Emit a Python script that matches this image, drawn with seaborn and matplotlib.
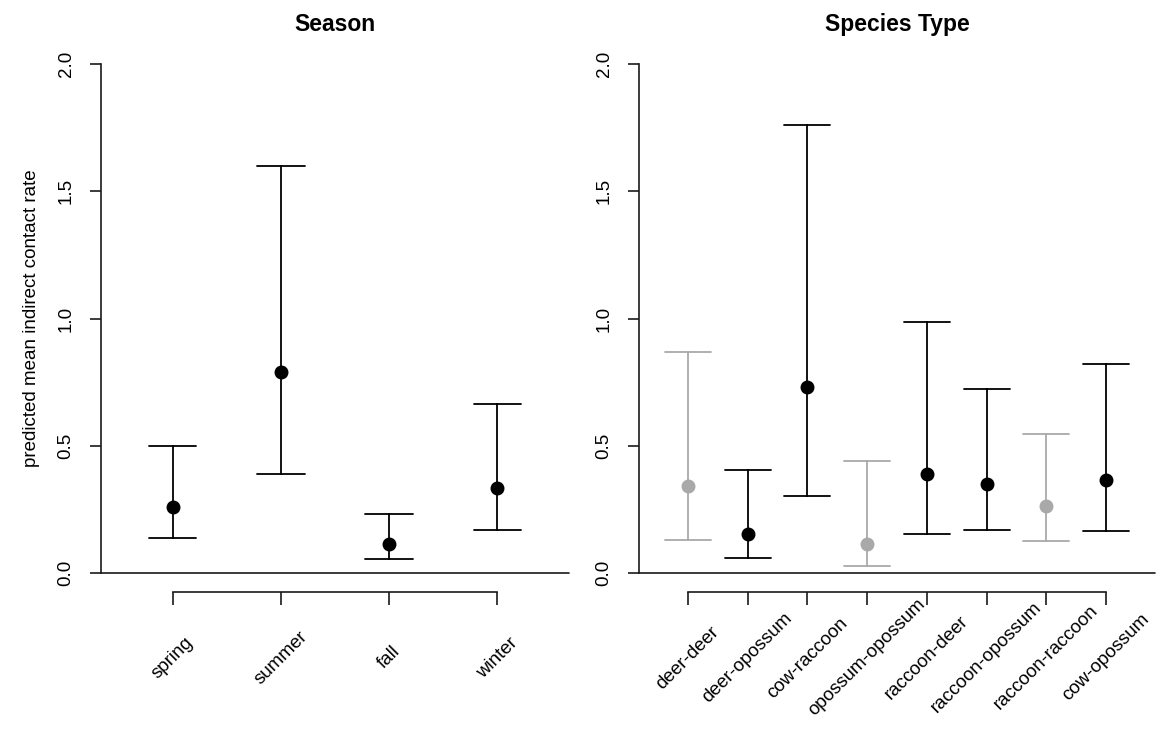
import pandas as pd
import seaborn as sns
import matplotlib
matplotlib.use('Agg')
import matplotlib.pyplot as plt

# predicted rates and 95% intervals
season = ['spring', 'summer', 'fall', 'winter']
season_est = [0.258, 0.79, 0.112, 0.334]
season_lo = [0.137, 0.39, 0.055, 0.168]
season_hi = [0.50, 1.60, 0.232, 0.665]

species = ['deer-deer', 'deer-opossum', 'cow-raccoon', 'opossum-opossum',
           'raccoon-deer', 'raccoon-opossum', 'raccoon-raccoon', 'cow-opossum']
species_est = [0.341, 0.155, 0.732, 0.115, 0.389, 0.351, 0.263, 0.365]
species_lo = [0.131, 0.058, 0.303, 0.028, 0.155, 0.170, 0.125, 0.166]
species_hi = [0.870, 0.406, 1.761, 0.439, 0.987, 0.724, 0.546, 0.821]
# grey = interval not separated from the reference level
species_signif = [False, True, True, False, True, True, False, True]

yticks = [0.0, 0.5, 1.0, 1.5, 2.0]

BLACK = '#000000'
GREY = '#a9a9a9'
AXIS = '#1a1a1a'


def long_table(cats, lo, est, hi):
    # three rows per category so that median = estimate, min/max = interval
    rows = []
    for c, a, m, b in zip(cats, lo, est, hi):
        rows += [(c, a), (c, m), (c, b)]
    return pd.DataFrame(rows, columns=['cat', 'rate'])


sns.set_theme(style='white')
plt.rcParams['font.family'] = ['Liberation Sans', 'DejaVu Sans']
plt.rcParams['text.color'] = 'black'
plt.rcParams['xtick.color'] = 'black'
plt.rcParams['ytick.color'] = 'black'
plt.rcParams['axes.labelcolor'] = 'black'

fig = plt.figure(figsize=(11.64, 7.33), dpi=100)
W, H = 1164, 733
ax1 = fig.add_axes([101 / W, 1 - 573 / H, 468 / W, 509 / H])
ax2 = fig.add_axes([639 / W, 1 - 573 / H, 516 / W, 509 / H])

season_df = long_table(season, season_lo, season_est, season_hi)
species_df = long_table(species, species_lo, species_est, species_hi)

season_pal = {c: BLACK for c in season}
species_pal = {c: (BLACK if s else GREY) for c, s in zip(species, species_signif)}

sns.pointplot(data=season_df, x='cat', y='rate', hue='cat', palette=season_pal,
              estimator='median', errorbar=('pi', 100), capsize=0.44,
              linestyle='none', markers='o', markersize=8,
              err_kws={'linewidth': 1.3}, legend=False, ax=ax1)
sns.pointplot(data=species_df, x='cat', y='rate', hue='cat', palette=species_pal,
              estimator='median', errorbar=('pi', 100), capsize=0.77,
              linestyle='none', markers='o', markersize=8,
              err_kws={'linewidth': 1.3}, legend=False, ax=ax2)

panels = [(ax1, season, 'Season'), (ax2, species, 'Species Type')]
for ax, cats, title in panels:
    n = len(cats)
    ext = 0.04 * n
    ax.set_xlim(-0.5 - ext, n - 0.5 + ext)
    ax.set_ylim(0, 2)
    for s in ['top', 'right']:
        ax.spines[s].set_visible(False)
    for s in ['left', 'bottom']:
        ax.spines[s].set_color(AXIS)
        ax.spines[s].set_linewidth(1.2)
    ax.spines['left'].set_bounds(0, 2)
    ax.spines['bottom'].set_position(('outward', 14))
    ax.spines['bottom'].set_bounds(0, n - 1)
    ax.axhline(0, color=AXIS, lw=1.2, clip_on=False)

    ax.set_yticks(yticks)
    ax.set_yticklabels([f'{v:.1f}' for v in yticks], rotation=90, va='center')
    ax.set_xticks(range(n))
    ax.set_xticklabels(cats, rotation=45, ha='center', va='center',
                       rotation_mode='anchor')
    ax.tick_params(axis='y', direction='out', length=8, width=1.2,
                   color=AXIS, pad=11, labelsize=13.5, left=True)
    ax.tick_params(axis='x', direction='out', length=9, width=1.2,
                   color=AXIS, pad=38, labelsize=13.5, bottom=True)
    ax.set_xlabel('')
    ax.set_ylabel('')
    ax.set_title(title, fontsize=16.5, fontweight='bold', pad=24)
    ax.grid(False)

ax1.set_ylabel('predicted mean indirect contact rate', fontsize=13.5)
ax1.yaxis.set_label_coords(-0.13, 0.5)

fig.savefig('out.png', dpi=100, facecolor='white')
